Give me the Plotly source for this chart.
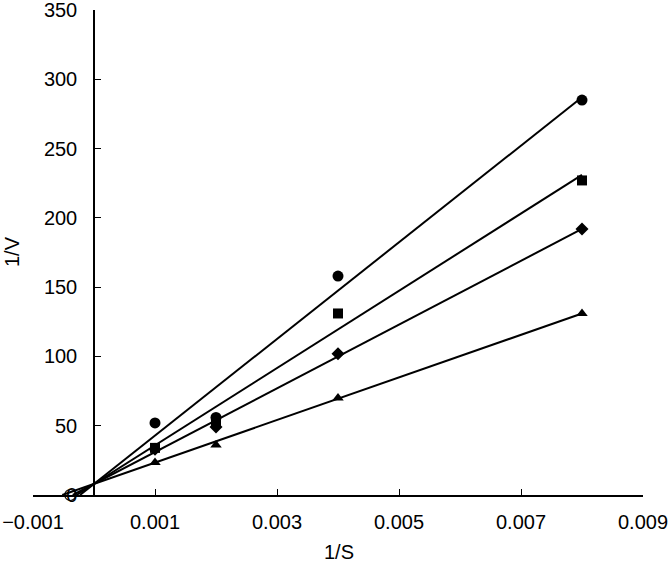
import plotly.graph_objects as go

# data
inv_s = [0.001, 0.002, 0.004, 0.008]
circle_v = [52, 56, 158, 285]
square_v = [34, 52, 131, 227]
diamond_v = [33, 49, 102, 192]
triangle_v = [23.5, 36, 70, 131]

# fitted lines (intercept, slope)
line_intercept = [8, 8, 8, 8]
line_slope = [34875, 27875, 23000, 15375]
line_xmax = 0.008

open_pt_x = [-0.00039]
open_pt_y = [0]

x_ticks = [-0.001, 0.001, 0.003, 0.005, 0.007, 0.009]
y_ticks = [0, 50, 100, 150, 200, 250, 300, 350]

fig = go.Figure()

for b, m in zip(line_intercept, line_slope):
    x0 = -b / m
    fig.add_trace(go.Scatter(x=[x0, line_xmax], y=[b + m * x0, b + m * line_xmax],
                             mode="lines", line=dict(color="black", width=2),
                             showlegend=False, hoverinfo="skip"))

series = [(circle_v, "circle", 11), (square_v, "square", 10),
          (diamond_v, "diamond", 10), (triangle_v, "triangle-up", 10)]
for vals, sym, sz in series:
    fig.add_trace(go.Scatter(x=inv_s, y=vals, mode="markers",
                             marker=dict(symbol=sym, size=sz, color="black"),
                             showlegend=False))

fig.add_trace(go.Scatter(x=open_pt_x, y=open_pt_y, mode="markers",
                         marker=dict(symbol="circle-open", size=11, color="black",
                                     line=dict(width=1.2)),
                         showlegend=False, cliponaxis=False))

font = dict(family="Liberation Sans, Arial, sans-serif", size=20, color="black")

fig.update_layout(
    width=670, height=565,
    margin=dict(l=33, r=27, t=10, b=70),
    plot_bgcolor="white", paper_bgcolor="white",
    font=font,
    xaxis=dict(range=[-0.001, 0.009], tickvals=x_ticks,
               ticktext=[f"{v:.3f}".replace("-", "\u2212") for v in x_ticks],
               ticks="inside", ticklen=6, tickwidth=1.2, tickcolor="black",
               showline=True, linecolor="black", linewidth=1.5,
               showgrid=False, zeroline=False, anchor="y", automargin=False,
               ticklabelstandoff=8, ticklabeloverflow="allow"),
    yaxis=dict(range=[0, 350], tickvals=y_ticks,
               ticks="inside", ticklen=6, tickwidth=1.2, tickcolor="black",
               showline=True, linecolor="black", linewidth=1.5,
               showgrid=False, zeroline=False, automargin=False,
               anchor="free", position=0.1, ticklabelstandoff=12,
               ticklabeloverflow="allow"),
    annotations=[
        dict(text="1/S", xref="paper", yref="paper", x=0.502, y=-0.1175,
             showarrow=False, font=font, xanchor="center", yanchor="middle"),
        dict(text="1/V", xref="paper", yref="paper", x=-0.0344, y=0.501,
             showarrow=False, font=font, textangle=-90,
             xanchor="center", yanchor="middle"),
    ],
)

fig.write_html("out.html")
